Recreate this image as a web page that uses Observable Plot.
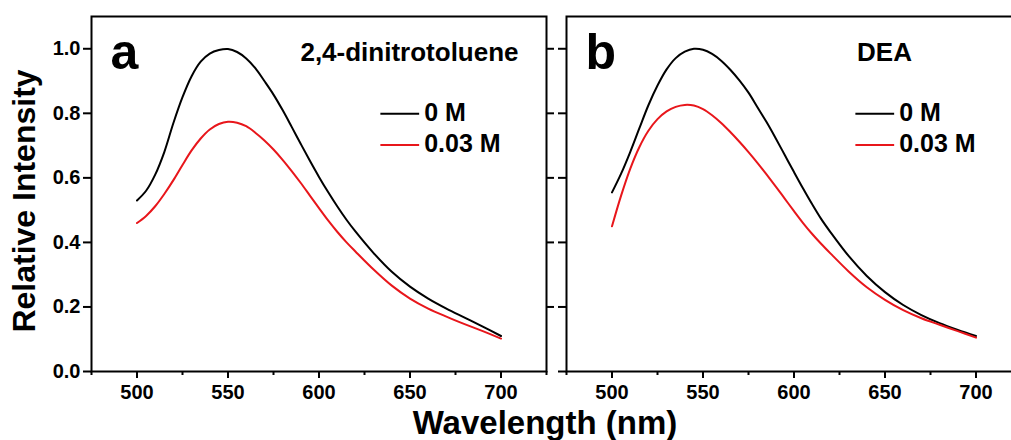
<!DOCTYPE html>
<html>
<head>
<meta charset="utf-8">
<script src="https://cdn.jsdelivr.net/npm/d3@7"></script>
<script src="https://cdn.jsdelivr.net/npm/@observablehq/plot@0.6"></script>
<style>
html, body { margin: 0; padding: 0; background: #fff; overflow: hidden; }
#fig { position: relative; width: 1011px; height: 440px; overflow: hidden; background: #fff;
  font-family: "Liberation Sans", Arial, sans-serif; }
.panel { position: absolute; top: 0; width: 560px; height: 440px; }
.lab { position: absolute; font-weight: bold; color: #000; white-space: nowrap; line-height: 1; }
</style>
</head>
<body>
<div id="fig"></div>
<script>
// ---- data ----
const wavelengths = [500,505,510,515,520,525,530,535,540,545,550,555,560,565,570,575,580,585,590,595,600,605,610,615,620,630,640,650,660,670,680,690,700];
const panelA_0M   = [0.53,0.56,0.61,0.68,0.77,0.85,0.915,0.96,0.985,0.996,0.999,0.99,0.97,0.94,0.90,0.858,0.81,0.758,0.705,0.653,0.603,0.556,0.512,0.471,0.434,0.367,0.309,0.263,0.226,0.195,0.167,0.139,0.11];
const panelA_003M = [0.46,0.482,0.512,0.55,0.593,0.64,0.685,0.722,0.75,0.767,0.774,0.771,0.76,0.74,0.716,0.688,0.656,0.621,0.584,0.545,0.506,0.468,0.433,0.401,0.372,0.316,0.266,0.226,0.195,0.17,0.147,0.125,0.102];
const panelB_0M   = [0.555,0.613,0.68,0.753,0.825,0.886,0.936,0.971,0.991,1.0,0.997,0.984,0.963,0.935,0.902,0.864,0.818,0.772,0.722,0.67,0.618,0.567,0.518,0.472,0.432,0.358,0.296,0.246,0.206,0.175,0.15,0.129,0.11];
const panelB_003M = [0.45,0.545,0.628,0.695,0.746,0.782,0.806,0.82,0.826,0.824,0.813,0.794,0.77,0.742,0.712,0.68,0.646,0.61,0.573,0.535,0.497,0.46,0.426,0.395,0.366,0.31,0.261,0.222,0.19,0.165,0.145,0.125,0.105];
const seriesNames  = ["0 M", "0.03 M"];
const seriesColors = ["#000000", "#e8161b"];
const panelLetters  = ["a", "b"];
const panelAnalytes = ["2,4-dinitrotoluene", "DEA"];
const yTicks = [0, 0.2, 0.4, 0.6, 0.8, 1.0];
const xTicks = [500, 550, 600, 650, 700];
const xMinorTicks = [475, 525, 575, 625, 675, 725];
const xLabel = "Wavelength (nm)";
const yLabel = "Relative Intensity";

// legend placement in data units (annotation)
const legendSwatch = [{x1: 634, x2: 655.3, y: 0.799}, {x1: 634, x2: 655.3, y: 0.702}];
const legendText   = [{x: 657.8, y: 0.777}, {x: 657.8, y: 0.679}];

function rows(values, series) {
  return wavelengths.map((w, i) => ({w, v: values[i], series}));
}

function panel(idx, s0, s1, showYLabels) {
  const data = [...rows(s0, seriesNames[0]), ...rows(s1, seriesNames[1])];
  const leg = seriesNames.map((s, i) => ({series: s, ...legendSwatch[i], tx: legendText[i].x, ty: legendText[i].y}));
  return Plot.plot({
    width: 560, height: 440,
    marginLeft: 91, marginRight: 14, marginTop: 16, marginBottom: 69,
    style: {fontFamily: '"Liberation Sans", Arial, sans-serif', fontWeight: "bold", fontSize: "20px",
            color: "#000", background: "transparent", overflow: "visible", maxWidth: "none"},
    x: {domain: [475, 725]},
    y: {domain: [0, 1.1]},
    color: {domain: seriesNames, range: seriesColors},
    marks: [
      Plot.axisY({ticks: yTicks, tickSize: 8, tickPadding: 3, strokeWidth: 2, label: null,
                  tickFormat: d3.format(".1f"), fill: showYLabels ? "currentColor" : "none"}),
      Plot.axisY({anchor: "right", ticks: yTicks.slice(1), tickSize: 7, strokeWidth: 2, label: null, fill: "none"}),
      Plot.axisX({ticks: xTicks, tickSize: 7, tickPadding: 6, strokeWidth: 2, label: null, tickFormat: d3.format("d")}),
      Plot.axisX({ticks: xMinorTicks, tickSize: 4, strokeWidth: 2, label: null, fill: "none"}),
      Plot.frame({stroke: "#000", strokeWidth: 2}),
      Plot.line(data, {x: "w", y: "v", stroke: "series", strokeWidth: 2, curve: "catmull-rom"}),
      Plot.text([panelLetters[idx]], {frameAnchor: "top-left", dx: 19, dy: 52, text: d => d,
                 textAnchor: "start", lineAnchor: "bottom", fontSize: 50, fontWeight: "bold"}),
      Plot.text([panelAnalytes[idx]], {frameAnchor: "top-left", dx: 318, dy: 44, text: d => d,
                 textAnchor: "middle", lineAnchor: "bottom", fontSize: 26, fontWeight: "bold"}),
      Plot.ruleY(leg, {y: "y", x1: "x1", x2: "x2", stroke: "series", strokeWidth: 2}),
      Plot.text(leg, {x: "tx", y: "ty", text: "series", textAnchor: "start", lineAnchor: "bottom",
                      fontSize: 25, fontWeight: "bold", fill: "#000"})
    ]
  });
}

const fig = document.getElementById("fig");
const pa = document.createElement("div"); pa.className = "panel"; pa.style.left = "0px";
pa.appendChild(panel(0, panelA_0M, panelA_003M, true));
const pb = document.createElement("div"); pb.className = "panel"; pb.style.left = "475px";
pb.appendChild(panel(1, panelB_0M, panelB_003M, false));
fig.appendChild(pa); fig.appendChild(pb);

const yl = document.createElement("div"); yl.className = "lab"; yl.textContent = yLabel;
yl.style.fontSize = "32px"; yl.style.left = "24px"; yl.style.top = "201px";
yl.style.transform = "translate(-50%, -50%) rotate(-90deg)";
fig.appendChild(yl);

const xl = document.createElement("div"); xl.className = "lab"; xl.textContent = xLabel;
xl.style.fontSize = "33px"; xl.style.left = "545px"; xl.style.top = "406px";
xl.style.transform = "translateX(-50%)";
fig.appendChild(xl);
</script>
</body>
</html>
